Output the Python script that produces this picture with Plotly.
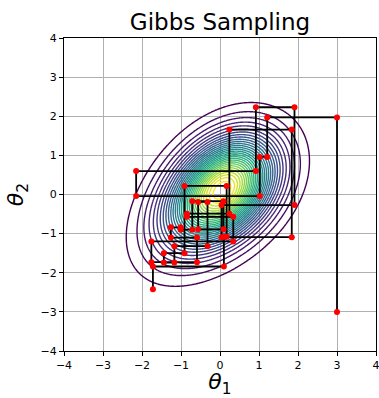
import math
import numpy as np
import plotly.graph_objects as go

# Gibbs chain samples (theta1 updated after theta2 at each step)
theta1 = [3.0, 1.21, 1.02, -2.15, 0.92, 1.91, 0.04, 1.84, 0.24, -0.85, 0.34, -1.76,
          -0.59, -1.26, -1.01, -0.71, 0.09, -0.56, -0.32, -1.17, -1.44, -0.91, 0.17, 0.10, -1.72]
theta2 = [-3.0, 1.97, 0.96, -0.04, 0.60, 2.23, -0.27, -1.09, 1.66, -0.49, -0.57, -1.20,
          -1.73, -1.10, -0.84, -0.90, -0.17, -0.89, -0.19, -1.32, -1.74, -1.50, 0.22, -1.08, -1.84, -2.42]

tick_vals = [-4, -3, -2, -1, 0, 1, 2, 3, 4]
tick_text = ["\u22124", "\u22123", "\u22122", "\u22121", "0", "1", "2", "3", "4"]

# target density parameters
mu_u = 0.80
mu_v = 0.04
s_u = 1.32
s_v = 0.69
skew = 1.1
n_levels = 30

# staircase path
px = [theta1[0]]
py = [theta2[0]]
for k in range(1, len(theta2)):
    px.append(theta1[k - 1]); py.append(theta2[k])
    if k < len(theta1):
        px.append(theta1[k]); py.append(theta2[k])

# density grid
g = np.linspace(-4, 4, 321)
X, Y = np.meshgrid(g, g)
U = (X + Y) / math.sqrt(2)
V = (Y - X) / math.sqrt(2)
t = (U - mu_u) / s_u
erf = np.frompyfunc(math.erf, 1, 1)
Phi = 0.5 * (1 + erf(-skew * t / math.sqrt(2)).astype(float))
Z = np.exp(-0.5 * t ** 2 - 0.5 * ((V - mu_v) / s_v) ** 2) * Phi
Z = Z / Z.max()
step = 1.0 / (n_levels + 1)

fig = go.Figure()
fig.add_trace(go.Contour(
    x=g, y=g, z=Z,
    contours=dict(start=step, end=step * n_levels + 1e-6, size=step, coloring="lines"),
    colorscale="Viridis", zmin=step, zmax=step * n_levels, showscale=False,
    line=dict(width=1.4), hoverinfo="skip"))
fig.add_trace(go.Scatter(x=px, y=py, mode="lines",
                         line=dict(color="black", width=1.8), hoverinfo="skip"))
fig.add_trace(go.Scatter(x=px, y=py, mode="markers",
                         marker=dict(color="red", size=6), hoverinfo="skip"))

axis_common = dict(
    range=[-4, 4], tickmode="array", tickvals=tick_vals, ticktext=tick_text,
    showgrid=True, gridcolor="#b0b0b0", gridwidth=1, zeroline=False,
    showline=True, mirror=True, linecolor="black", linewidth=1,
    ticks="outside", ticklen=4, tickcolor="black", automargin=False,
    ticklabeloverflow="allow",
    tickfont=dict(family="DejaVu Sans", size=11, color="black"),
)
fig.update_layout(
    width=379, height=398,
    margin=dict(l=64, r=3, t=38, b=47, pad=0, autoexpand=False),
    paper_bgcolor="white", plot_bgcolor="white",
    showlegend=False,
    title=dict(text="Gibbs Sampling", x=0.5, xref="paper", xanchor="center",
               y=1 - 22 / 398, yref="container", yanchor="middle", automargin=False,
               font=dict(family="DejaVu Sans", size=23, color="black")),
    xaxis=dict(axis_common, title=dict(text="<i>θ</i><sub>1</sub>", standoff=10,
                                       font=dict(family="DejaVu Sans", size=22, color="black"))),
    yaxis=dict(axis_common, title=dict(text="<i>θ</i><sub>2</sub>", standoff=10,
                                       font=dict(family="DejaVu Sans", size=22, color="black"))),
)
fig.write_html("out.html", config={"displayModeBar": False},
               post_script="document.body.style.margin='0px';")
